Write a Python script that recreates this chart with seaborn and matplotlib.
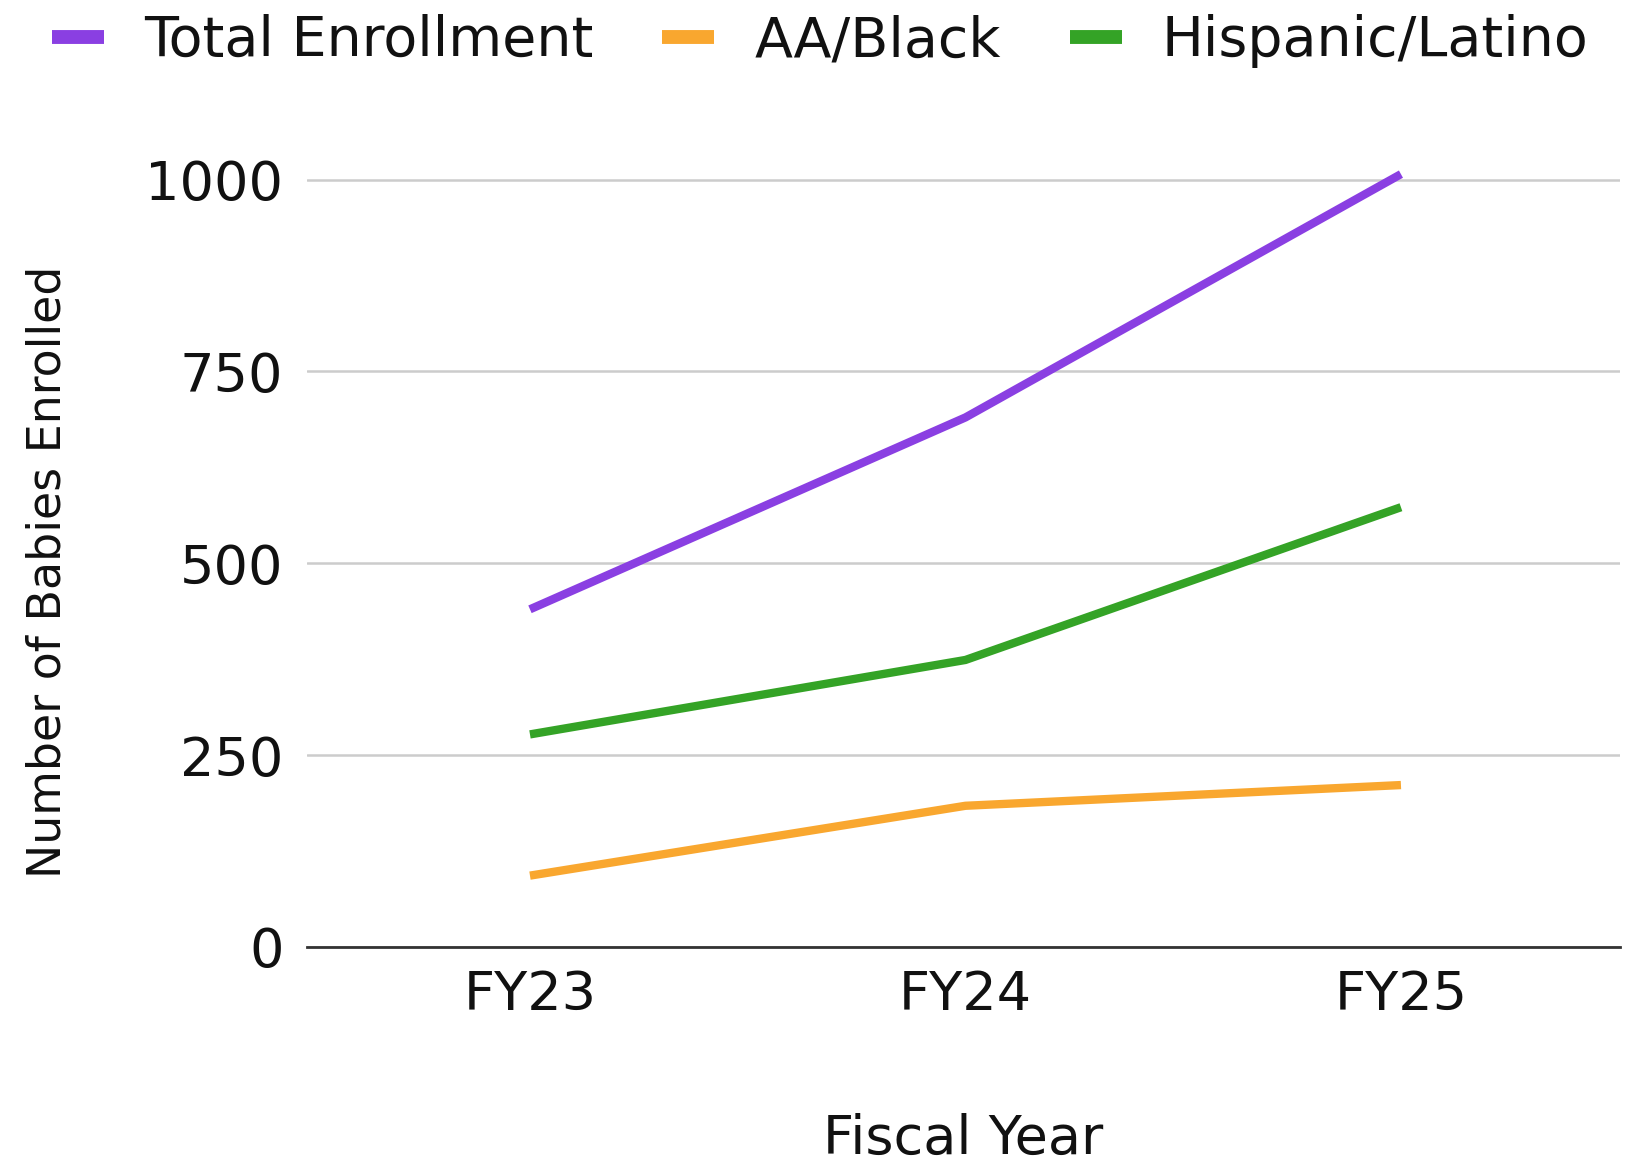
import numpy as np
import pandas as pd
import matplotlib
matplotlib.use("Agg")
import matplotlib.pyplot as plt
from matplotlib.lines import Line2D
import seaborn as sns

# Enrollment counts by fiscal year
years = ["FY23", "FY24", "FY25"]
total_enrollment = [440, 690, 1007]
aa_black = [93, 184, 211]
hispanic_latino = [277, 374, 573]

series_names = ["Total Enrollment", "AA/Black", "Hispanic/Latino"]
series_colors = ["#8A3FE2", "#F9A72F", "#34A326"]

df = pd.DataFrame({
    "year": years * 3,
    "x": list(range(len(years))) * 3,
    "count": total_enrollment + aa_black + hispanic_latino,
    "group": [n for n in series_names for _ in years],
})

sns.set_theme(style="white")
plt.rcParams["font.family"] = ["DejaVu Sans"]

W, H = 1646, 1162
fig = plt.figure(figsize=(W / 100, H / 100), dpi=100)
ymax = 1030
px_per_unit = (947 - 179.5) / 1000
left, right, bottom = 307, 1620, 947
top = bottom - ymax * px_per_unit
ax = fig.add_axes([left / W, 1 - bottom / H, (right - left) / W, (bottom - top) / H])

sns.lineplot(data=df, x="x", y="count", hue="group", hue_order=series_names,
             palette=series_colors, linewidth=6, ax=ax, legend=False,
             solid_capstyle="butt")
for ln in ax.lines:
    ln.set_zorder(3)

ax.set_xlim(-0.512, 2.503)
ax.set_ylim(0, ymax)
ax.set_yticks([0, 250, 500, 750, 1000])
ax.set_xticks(range(len(years)))
ax.set_xticklabels(years)

for lab in ax.get_xticklabels():
    lab.set_fontsize(39)
for lab in ax.get_yticklabels():
    lab.set_fontsize(39)

ax.tick_params(axis="both", length=0, colors="#111111")
ax.tick_params(axis="y", pad=17)
ax.tick_params(axis="x", pad=16)
ax.yaxis.grid(True, color="#cccccc", linewidth=1.8)
ax.set_axisbelow(True)
for side in ["left", "right", "top"]:
    ax.spines[side].set_visible(False)
ax.spines["bottom"].set_color("#333333")
ax.spines["bottom"].set_linewidth(2)
ax.spines["bottom"].set_zorder(4)

ax.set_xlabel("")
ax.set_ylabel("")
fig.text((left + right) / 2 / W, 1 - 1139 / H, "Fiscal Year", ha="center", va="center",
         fontsize=39, color="#111111")
fig.text(48 / W, 1 - 572 / H, "Number of Babies Enrolled", ha="center", va="center",
         rotation=90, fontsize=33, color="#111111")

handles = [Line2D([0], [0], color=c, linewidth=10, solid_capstyle="butt") for c in series_colors]
fig.legend(handles, series_names, loc="center left", bbox_to_anchor=(52 / W, 1 - 41 / H),
           ncol=3, frameon=False, handlelength=0.93, handletextpad=0.72,
           columnspacing=1.25, prop={"size": 40}, borderaxespad=0,
           borderpad=0, labelcolor="#111111")

fig.savefig("out.png", dpi=100, facecolor="white")
